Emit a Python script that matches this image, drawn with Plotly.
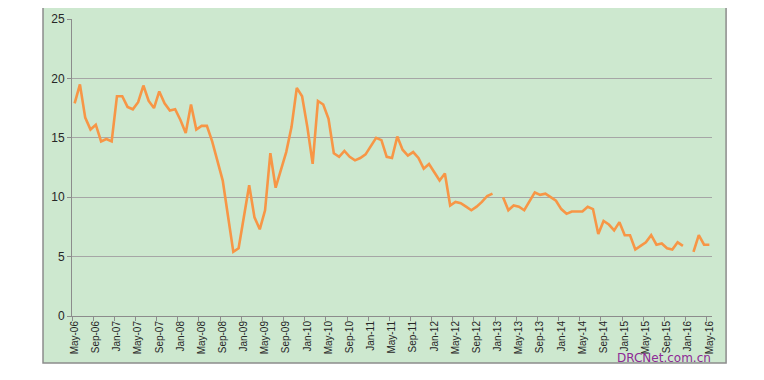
import plotly.graph_objects as go

months = ["Jan", "Feb", "Mar", "Apr", "May", "Jun", "Jul", "Aug", "Sep", "Oct", "Nov", "Dec"]
categories = []
for k in range(121):
    m = (4 + k) % 12
    y = 6 + (4 + k) // 12
    categories.append(f"{months[m]}-{y:02d}")

values = [
    17.9, 19.5, 16.7, 15.7, 16.1, 14.7, 14.9, 14.7, 18.5, 18.5,
    17.6, 17.4, 18.0, 19.4, 18.1, 17.5, 18.9, 17.9, 17.3, 17.4,
    16.5, 15.4, 17.8, 15.7, 16.0, 16.0, 14.7, 13.0, 11.4, 8.4,
    5.4, 5.7, 8.4, 11.0, 8.3, 7.3, 8.9, 13.7, 10.8, 12.3,
    13.8, 15.9, 19.2, 18.5, 15.9, 12.8, 18.1, 17.8, 16.6, 13.7,
    13.4, 13.9, 13.4, 13.1, 13.3, 13.6, 14.3, 15.0, 14.8, 13.4,
    13.3, 15.1, 14.0, 13.5, 13.8, 13.3, 12.4, 12.8, 12.1, 11.4,
    12.0, 9.3, 9.6, 9.5, 9.2, 8.9, 9.2, 9.6, 10.1, 10.3,
    None, 10.0, 8.9, 9.3, 9.2, 8.9, 9.7, 10.4, 10.2, 10.3,
    10.0, 9.7, 9.0, 8.6, 8.8, 8.8, 8.8, 9.2, 9.0, 6.9,
    8.0, 7.7, 7.2, 7.9, 6.8, 6.8, 5.6, 5.9, 6.2, 6.8,
    6.0, 6.1, 5.7, 5.6, 6.2, 5.9, None, 5.4, 6.8, 6.0,
    6.0,
]

tick_idx = list(range(0, 121, 4))
tick_labels = [categories[i] for i in tick_idx]

fig = go.Figure()
fig.add_trace(go.Scatter(
    x=list(range(len(values))), y=values, mode="lines",
    line=dict(color="#F79646", width=2.6), connectgaps=False,
    hoverinfo="skip", showlegend=False,
))

green = "#CDE8CF"
fig.add_shape(type="rect", xref="paper", yref="paper",
              x0=-0.0453, x1=1.022, y0=-0.158, y1=1.0404,
              fillcolor=green, line=dict(color="#8C8C8C", width=1.5), layer="below")

fig.add_annotation(text="DRCNet.com.cn", xref="paper", yref="paper",
                   x=1.002, y=-0.142, xanchor="right", yanchor="middle",
                   showarrow=False, font=dict(family="DejaVu Sans", size=12, color="#8E2A96"))

fig.update_layout(
    width=756, height=372,
    margin=dict(l=64, r=52, t=11, b=64, autoexpand=False),
    paper_bgcolor="white", plot_bgcolor=green,
    font=dict(family="Liberation Sans", color="#262626"),
    xaxis=dict(
        range=[-0.5, 120.5], tickmode="array", tickvals=tick_idx, ticktext=tick_labels,
        tickangle=-90, tickfont=dict(size=10), ticks="", automargin=False,
        showgrid=False, zeroline=False,
        showline=True, linecolor="#8C8C8C", linewidth=1,
        minor=dict(tickmode="linear", tick0=-0.5, dtick=4, ticks="outside",
                   ticklen=4, tickcolor="#8C8C8C", showgrid=False),
    ),
    yaxis=dict(
        range=[0, 25], dtick=5, tickfont=dict(size=12), automargin=False,
        showgrid=True, gridcolor="#A6A6A6", gridwidth=1,
        zeroline=False, showline=True, linecolor="#8C8C8C", linewidth=1,
        ticks="outside", ticklen=4, tickcolor="#8C8C8C",
    ),
)

fig.write_html("out.html")
